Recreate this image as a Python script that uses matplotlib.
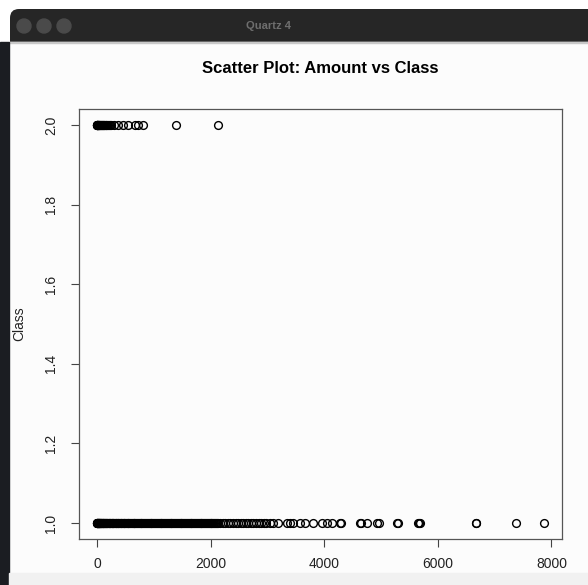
import matplotlib
matplotlib.use("Agg")
import matplotlib.pyplot as plt
from matplotlib.patches import Rectangle, FancyBboxPatch, Circle

plt.rcParams['font.family'] = ['Liberation Sans', 'DejaVu Sans']

# transaction amounts, grouped by class
amount_class1 = [
    0, 2, 4, 7, 10, 13, 17, 21, 25, 29, 34, 39, 44, 49, 55, 61, 67, 73, 80, 87,
    94, 101, 108, 116, 124, 132, 140, 149, 158, 167, 176, 185, 195, 205, 215, 225,
    236, 247, 258, 269, 280, 292, 304, 316, 328, 340, 352, 365, 378, 391, 404, 417,
    430, 443, 457, 471, 485, 499, 513, 527, 541, 555, 570, 585, 600, 615, 630, 645,
    660, 675, 690, 705, 720, 736, 752, 768, 784, 800, 816, 832, 848, 864, 880, 896,
    912, 928, 944, 960, 976, 992, 1008, 1024, 1040, 1056, 1072, 1088, 1104, 1120,
    1136, 1152, 1168, 1184, 1200, 1216, 1232, 1248, 1264, 1280, 1296, 1312, 1328,
    1344, 1360, 1376, 1392, 1408, 1424, 1440, 1456, 1472, 1488, 1504, 1520, 1536,
    1552, 1568, 1584, 1600, 1616, 1632, 1648, 1664, 1680, 1696, 1712, 1728, 1744,
    1760, 1776, 1792, 1808, 1824, 1840, 1856, 1872, 1888, 1904, 1920, 1936, 1952,
    1968, 1984, 2000, 2016, 2032, 2048, 2064, 2080, 2096, 2112, 2125,
    2170, 2215, 2260, 2305, 2350, 2395, 2440, 2485, 2530, 2575, 2620, 2665, 2710,
    2755, 2800, 2845, 2890, 2935, 2980,
    3045, 3100, 3180, 3340, 3390, 3450, 3570, 3660, 3800, 3960, 4050, 4140,
    4280, 4300, 4630, 4640, 4750, 4930, 4960, 5280, 5300, 5650, 5670, 5690,
    6670, 6675, 7380, 7870]
amount_class2 = [
    0, 1, 2, 4, 6, 9, 12, 16, 20, 25, 30, 36, 42, 49, 56, 64, 72, 81, 90, 100,
    110, 121, 132, 144, 156, 168, 181, 194, 208, 222,
    250, 294, 365, 453, 541, 664, 717, 805, 1386, 2127]

xticks = [0, 2000, 4000, 6000, 8000]
yticks = [1.0, 1.2, 1.4, 1.6, 1.8, 2.0]

W, H = 588, 585
fig = plt.figure(figsize=(W / 100, H / 100), dpi=100)
fig.patch.set_facecolor('white')

# window chrome drawn in pixel units
bg = fig.add_axes([0, 0, 1, 1], zorder=-1)
bg.set_xlim(0, W)
bg.set_ylim(H, 0)
bg.axis('off')
bg.add_patch(Rectangle((0, 0), W, H, color='white'))
bg.add_patch(FancyBboxPatch((10, 9), W + 20, 60, boxstyle='round,pad=0,rounding_size=9',
                            facecolor='#262626', edgecolor='none'))
bg.add_patch(Rectangle((9, 42), W, H, color='#fcfcfc'))
bg.add_patch(Rectangle((9, 42), W, 1.2, color='#c8c8c8'))
bg.add_patch(Rectangle((0, 42), 9, H, color='#1b1d22'))
bg.add_patch(Rectangle((9, 573), W, 12, color='#f1f1f1'))
for cx in (24, 44, 64):
    bg.add_patch(Circle((cx, 26), 7, color='#4a4a4a'))
bg.text(268, 26, 'Quartz 4', color='#6e6e6e', fontsize=8, fontweight='bold',
        ha='center', va='center')

ax = fig.add_axes([79 / W, 46 / H, 483 / W, 430 / H])
ax.set_facecolor('#fcfcfc')
ax.plot(amount_class1, [1] * len(amount_class1), 'o', mfc='none', mec='black',
        ms=5.6, mew=1.0, ls='none')
ax.plot(amount_class2, [2] * len(amount_class2), 'o', mfc='none', mec='black',
        ms=5.6, mew=1.0, ls='none')

ax.set_xlim(-315, 8185)
ax.set_ylim(0.96, 2.04)
ax.set_xticks(xticks)
ax.set_xticklabels([str(t) for t in xticks])
ax.set_yticks(yticks)
ax.set_yticklabels([f'{t:.1f}' for t in yticks], rotation=90, va='center')
ax.tick_params(axis='both', length=6, width=0.8, color='#444444', labelsize=10,
               labelcolor='#222222')
ax.tick_params(axis='x', pad=7)
ax.tick_params(axis='y', pad=9)
for sp in ax.spines.values():
    sp.set_color('#555555')
    sp.set_linewidth(0.9)

ax.set_title('Scatter Plot: Amount vs Class', fontsize=12, fontweight='bold', pad=26)
ax.set_ylabel('Class', fontsize=10, color='#222222')
ax.yaxis.set_label_coords(-0.11, 0.5)

fig.savefig('out.png', dpi=100)
